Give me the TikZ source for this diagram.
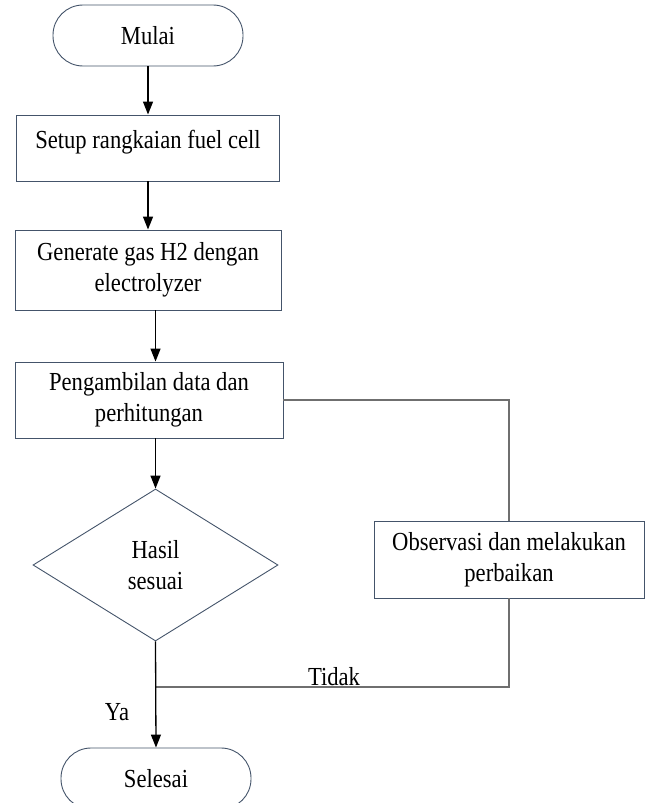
\documentclass[tikz,border=0pt]{standalone}
\usepackage{fontspec}
\setmainfont{Liberation Serif}[FakeStretch=0.87]
\usepackage{tikz}
\usetikzlibrary{arrows.meta,shapes.geometric}
\definecolor{edgeC}{HTML}{44546A}
\definecolor{loopC}{HTML}{6F6F6F}

\begin{document}
\begin{tikzpicture}[x=1pt,y=-1pt,
  every node/.style={font=\fontsize{26}{31}\selectfont},
  term/.style={rectangle,rounded corners=30pt,draw=edgeC,line width=0.9pt,minimum width=190pt,minimum height=61pt,inner sep=0pt},
  proc/.style={rectangle,draw=edgeC,line width=0.9pt,align=center,inner sep=0pt},
  cond/.style={diamond,draw=edgeC,line width=0.9pt,align=center,aspect=1.6,minimum width=245pt,minimum height=152pt,inner sep=0pt},
  flow/.style={black,line width=1.3pt,-{Triangle[length=13pt,width=10pt]}},
  back/.style={loopC,line width=1.3pt}]
  \useasboundingbox (0,0) rectangle (648,803);
  % main column
  \node[term] (mulai) at (148,35.5) {Mulai};
  \node[proc,minimum width=263pt,minimum height=66pt,text depth=18pt] (setup) at (148,148) {Setup rangkaian fuel cell};
  \node[proc,minimum width=266pt,minimum height=80pt] (generate) at (148,270) {Generate gas H2 dengan\\electrolyzer};
  \node[proc,minimum width=268pt,minimum height=76pt] (ambil) at (149,400) {Pengambilan data dan\\perhitungan};
  \node[cond] (cek) at (155.5,565) {Hasil\\sesuai};
  \node[term] (selesai) at (156,778.5) {Selesai};
  % loop back
  \node[proc,minimum width=270pt,minimum height=77pt] (observasi) at (509,559.5) {Observasi dan melakukan\\perbaikan};
  \coordinate (gabung) at (155.5,687);

  \draw[flow] (mulai) -- (setup);
  \draw[flow] (setup) -- (generate);
  \draw[flow] (cek |- generate.south) -- (cek |- ambil.north);
  \draw[flow] (cek |- ambil.south) -- (cek.north);
  \draw[back] (ambil.east) -| (observasi.north);
  \draw[back] (observasi.south) |- (gabung);
  \draw[flow] (cek.south) -- (selesai.north);
  \node[anchor=south,inner sep=1pt] (tidak) at (334,687) {Tidak};
  \node (ya) at (117,712) {Ya};
\end{tikzpicture}
\end{document}
